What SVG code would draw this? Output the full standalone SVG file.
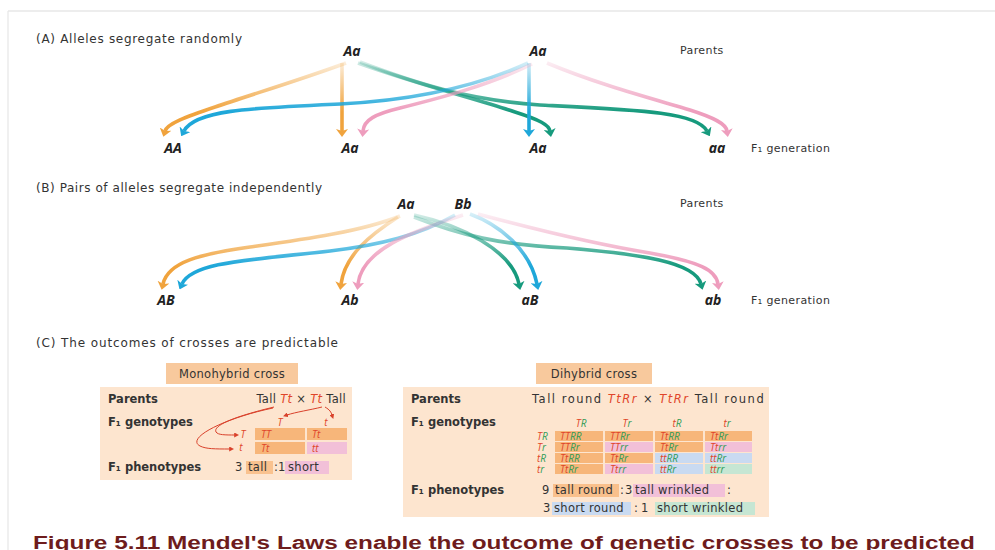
<svg xmlns="http://www.w3.org/2000/svg" width="995" height="550" viewBox="0 0 995 550">
  <style>
    .head { font-family: "DejaVu Sans", "Open Sans", sans-serif; font-size: 12px; fill: #333; }
    .lab { font-family: "DejaVu Sans", "Open Sans", sans-serif; font-size: 11px; letter-spacing: 0.4px; fill: #333; }
    .al { font-family: "Open Sans", "DejaVu Sans", sans-serif; font-size: 14px; font-weight: bold; font-style: italic; fill: #222; text-anchor: middle; }
    .bl { font-family: "DejaVu Sans", "Open Sans", sans-serif; font-size: 11.5px; font-weight: bold; fill: #333; }
    .tx { font-family: "DejaVu Sans", "Open Sans", sans-serif; font-size: 11.5px; letter-spacing: 0.3px; fill: #333; }
    .gi { font-family: "Open Sans", "DejaVu Sans", sans-serif; font-size: 10px; font-style: italic; }
    .r { fill: #e0452a; }
    .g { fill: #2e9b55; }
    .arrow { fill: none; stroke-width: 3.6; stroke-linecap: butt; }
    .red { fill: none; stroke: #d9412b; stroke-width: 1; }
    .panel { fill: #fde5cf; }
    .tag { fill: #f8c99d; }
    .co { fill: #f7b67a; }
    .cp { fill: #f2c0d8; }
    .cb { fill: #c9daf1; }
    .cg { fill: #c6e6d3; }
  </style>
  <defs>
    <!-- fading strokes, section A -->
    <linearGradient id="gAo" gradientUnits="userSpaceOnUse" x1="0" y1="60" x2="0" y2="112"><stop offset="0" stop-color="#f0a33d" stop-opacity="0.15"/><stop offset="1" stop-color="#f0a33d"/></linearGradient>
    <linearGradient id="gAb" gradientUnits="userSpaceOnUse" x1="0" y1="60" x2="0" y2="112"><stop offset="0" stop-color="#1ea7d9" stop-opacity="0.15"/><stop offset="1" stop-color="#1ea7d9"/></linearGradient>
    <linearGradient id="gAt" gradientUnits="userSpaceOnUse" x1="0" y1="60" x2="0" y2="112"><stop offset="0" stop-color="#169a7d" stop-opacity="0.15"/><stop offset="1" stop-color="#169a7d"/></linearGradient>
    <linearGradient id="gAp" gradientUnits="userSpaceOnUse" x1="0" y1="60" x2="0" y2="112"><stop offset="0" stop-color="#ee9dbd" stop-opacity="0.15"/><stop offset="1" stop-color="#ee9dbd"/></linearGradient>
    <!-- fading strokes, section B -->
    <linearGradient id="gBo" gradientUnits="userSpaceOnUse" x1="0" y1="212" x2="0" y2="266"><stop offset="0" stop-color="#f0a33d" stop-opacity="0.15"/><stop offset="1" stop-color="#f0a33d"/></linearGradient>
    <linearGradient id="gBb" gradientUnits="userSpaceOnUse" x1="0" y1="212" x2="0" y2="266"><stop offset="0" stop-color="#1ea7d9" stop-opacity="0.15"/><stop offset="1" stop-color="#1ea7d9"/></linearGradient>
    <linearGradient id="gBt" gradientUnits="userSpaceOnUse" x1="0" y1="212" x2="0" y2="266"><stop offset="0" stop-color="#169a7d" stop-opacity="0.15"/><stop offset="1" stop-color="#169a7d"/></linearGradient>
    <linearGradient id="gBp" gradientUnits="userSpaceOnUse" x1="0" y1="212" x2="0" y2="266"><stop offset="0" stop-color="#ee9dbd" stop-opacity="0.15"/><stop offset="1" stop-color="#ee9dbd"/></linearGradient>
    <marker id="mO" markerUnits="userSpaceOnUse" viewBox="0 0 8 12" refX="2" refY="6" markerWidth="8" markerHeight="12" orient="auto"><path d="M0,0 L8,6 L0,12 L2,6 Z" fill="#f0a33d"/></marker>
    <marker id="mB" markerUnits="userSpaceOnUse" viewBox="0 0 8 12" refX="2" refY="6" markerWidth="8" markerHeight="12" orient="auto"><path d="M0,0 L8,6 L0,12 L2,6 Z" fill="#1ea7d9"/></marker>
    <marker id="mT" markerUnits="userSpaceOnUse" viewBox="0 0 8 12" refX="2" refY="6" markerWidth="8" markerHeight="12" orient="auto"><path d="M0,0 L8,6 L0,12 L2,6 Z" fill="#169a7d"/></marker>
    <marker id="mP" markerUnits="userSpaceOnUse" viewBox="0 0 8 12" refX="2" refY="6" markerWidth="8" markerHeight="12" orient="auto"><path d="M0,0 L8,6 L0,12 L2,6 Z" fill="#ee9dbd"/></marker>
    <marker id="mR" markerUnits="userSpaceOnUse" viewBox="0 0 6 6" refX="1" refY="3" markerWidth="5" markerHeight="5" orient="auto"><path d="M0,0 L6,3 L0,6 Z" fill="#d9412b"/></marker>
  </defs>

  <rect width="995" height="550" fill="#ffffff"/>
  <line x1="8" y1="11" x2="995" y2="11" stroke="#dcdcdc" stroke-width="1.2"/>
  <line x1="8" y1="11" x2="8" y2="550" stroke="#e6e6e6" stroke-width="1.2"/>

  <!-- Section A -->
  <text class="head" x="36" y="43" textLength="206">(A) Alleles segregate randomly</text>
  <g id="a-parent1"><text class="al" x="352" y="56">Aa</text></g>
  <g id="a-parent2"><text class="al" x="538" y="56">Aa</text></g>
  <text class="lab" x="680" y="54">Parents</text>
  <g id="a-AA"><text class="al" x="173" y="153">AA</text></g>
  <g id="a-Aa1"><text class="al" x="350" y="153">Aa</text></g>
  <g id="a-Aa2"><text class="al" x="538" y="153">Aa</text></g>
  <g id="a-aa"><text class="al" x="717" y="153">aa</text></g>
  <text class="lab" x="751" y="152">F₁ generation</text>

  <g id="a-connectors">
    <path class="arrow" stroke="url(#gAo)" marker-end="url(#mO)" d="M346,63 C300,80 250,95 215,107 C185,117 167,124 165,131"/>
    <path class="arrow" stroke="url(#gAo)" marker-end="url(#mO)" d="M342,63 L342,131"/>
    <path class="arrow" stroke="url(#gAt)" marker-end="url(#mT)" d="M358,63 C420,85 480,100 515,112 C540,120 549,125 550,131"/>
    <path class="arrow" stroke="url(#gAt)" marker-end="url(#mT)" d="M360,62 C420,85 470,100 540,105 C640,110 697,112 707,131"/>
    <path class="arrow" stroke="url(#gAb)" marker-end="url(#mB)" d="M528,63 C480,85 420,100 340,104 C250,108 195,110 184,131"/>
    <path class="arrow" stroke="url(#gAb)" marker-end="url(#mB)" d="M529,63 L529,131"/>
    <path class="arrow" stroke="url(#gAp)" marker-end="url(#mP)" d="M532,64 C490,85 440,98 400,108 C375,114 364,120 363,131"/>
    <path class="arrow" stroke="url(#gAp)" marker-end="url(#mP)" d="M547,63 C600,85 650,98 690,110 C715,118 726,124 727,131"/>
  </g>

  <!-- Section B -->
  <text class="head" x="36" y="192" textLength="286">(B) Pairs of alleles segregate independently</text>
  <g id="b-parentA"><text class="al" x="406" y="209">Aa</text></g>
  <g id="b-parentB"><text class="al" x="463" y="209">Bb</text></g>
  <text class="lab" x="680" y="207">Parents</text>
  <g id="b-AB"><text class="al" x="166" y="305">AB</text></g>
  <g id="b-Ab"><text class="al" x="350" y="305">Ab</text></g>
  <g id="b-aB"><text class="al" x="530" y="305">aB</text></g>
  <g id="b-ab"><text class="al" x="713" y="305">ab</text></g>
  <text class="lab" x="751" y="304">F₁ generation</text>

  <g id="b-connectors">
    <path class="arrow" stroke="url(#gBo)" marker-end="url(#mO)" d="M400,216 C360,232 300,240 250,247 C200,254 168,262 163,284"/>
    <path class="arrow" stroke="url(#gBo)" marker-end="url(#mO)" d="M398,217 C370,235 345,255 341,284"/>
    <path class="arrow" stroke="url(#gBt)" marker-end="url(#mT)" d="M414,215 C460,225 512,250 519,284"/>
    <path class="arrow" stroke="url(#gBt)" marker-end="url(#mT)" d="M414,217 C460,235 500,245 567,248 C640,254 695,262 701,284"/>
    <path class="arrow" stroke="url(#gBb)" marker-end="url(#mB)" d="M455,215 C420,235 380,245 330,251 C250,260 192,262 182,284"/>
    <path class="arrow" stroke="url(#gBb)" marker-end="url(#mB)" d="M470,214 C500,225 530,250 537,284"/>
    <path class="arrow" stroke="url(#gBp)" marker-end="url(#mP)" d="M463,215 C410,232 362,250 358,284"/>
    <path class="arrow" stroke="url(#gBp)" marker-end="url(#mP)" d="M478,214 C530,228 600,245 650,253 C700,262 716,270 718,284"/>
  </g>

  <!-- Section C -->
  <text class="head" x="36" y="347" textLength="302">(C) The outcomes of crosses are predictable</text>

  <!-- Monohybrid cross -->
  <g id="mono">
    <rect class="tag" x="166" y="363" width="132" height="21"/>
    <text class="tx" x="232" y="378" text-anchor="middle">Monohybrid cross</text>
    <rect class="panel" x="100" y="387" width="252" height="93"/>
    <text class="bl" x="108" y="403">Parents</text>
    <text class="tx" x="346" y="403" text-anchor="end">Tall <tspan class="r" font-style="italic">Tt</tspan> × <tspan class="r" font-style="italic">Tt</tspan> Tall</text>
    <text class="bl" x="108" y="426">F₁ genotypes</text>
    <text class="gi r" x="280" y="426" text-anchor="middle">T</text>
    <text class="gi r" x="326" y="426" text-anchor="middle">t</text>
    <text class="gi r" x="243" y="438" text-anchor="middle">T</text>
    <text class="gi r" x="241" y="451" text-anchor="middle">t</text>
    <rect class="co" x="255" y="428" width="50" height="12"/>
    <rect class="co" x="307" y="428" width="40" height="12"/>
    <rect class="co" x="255" y="442" width="50" height="12"/>
    <rect class="cp" x="307" y="442" width="40" height="12"/>
    <text class="gi r" x="261" y="438">TT</text>
    <text class="gi r" x="312" y="438">Tt</text>
    <text class="gi r" x="261" y="452">Tt</text>
    <text class="gi r" x="312" y="452">tt</text>
    <path class="red" marker-end="url(#mR)" d="M274,407 C245,414 212,424 216,432 C218,435 225,435 235,435"/>
    <path class="red" marker-end="url(#mR)" d="M273,408 C225,418 185,438 200,446 C206,449 215,449 230,449"/>
    <path class="red" marker-end="url(#mR)" d="M322,407 C310,410 296,412 287,415"/>
    <path class="red" marker-end="url(#mR)" d="M325,407 C330,410 331,412 332,415"/>
    <text class="bl" x="108" y="471">F₁ phenotypes</text>
    <rect class="co" x="246" y="461" width="27" height="13" opacity="0.75"/>
    <rect class="cp" x="285" y="461" width="44" height="13"/>
    <text class="tx" x="235" y="471">3<tspan x="248">tall</tspan><tspan x="274">:</tspan><tspan x="278">1</tspan><tspan x="288">short</tspan></text>
  </g>

  <!-- Dihybrid cross -->
  <g id="di">
    <rect class="tag" x="536" y="363" width="116" height="21"/>
    <text class="tx" x="594" y="378" text-anchor="middle">Dihybrid cross</text>
    <rect class="panel" x="403" y="387" width="366" height="130"/>
    <text class="bl" x="411" y="403">Parents</text>
    <text class="tx" x="532" y="403" textLength="232">Tall round <tspan class="r" font-style="italic">TtRr</tspan> × <tspan class="r" font-style="italic">TtRr</tspan> Tall round</text>
    <text class="bl" x="411" y="426">F₁ genotypes</text>
    <!-- column and row gametes -->
    <text class="gi" x="581" y="427" text-anchor="middle"><tspan class="r">T</tspan><tspan class="g">R</tspan></text>
    <text class="gi" x="627" y="427" text-anchor="middle"><tspan class="r">T</tspan><tspan class="g">r</tspan></text>
    <text class="gi" x="677" y="427" text-anchor="middle"><tspan class="r">t</tspan><tspan class="g">R</tspan></text>
    <text class="gi" x="727" y="427" text-anchor="middle"><tspan class="r">t</tspan><tspan class="g">r</tspan></text>
    <text class="gi" x="537" y="440"><tspan class="r">T</tspan><tspan class="g">R</tspan></text>
    <text class="gi" x="537" y="451"><tspan class="r">T</tspan><tspan class="g">r</tspan></text>
    <text class="gi" x="537" y="462"><tspan class="r">t</tspan><tspan class="g">R</tspan></text>
    <text class="gi" x="537" y="473"><tspan class="r">t</tspan><tspan class="g">r</tspan></text>
    <!-- cells -->
    <rect class="co" x="555" y="431" width="48" height="10"/>
    <rect class="co" x="605" y="431" width="48" height="10"/>
    <rect class="co" x="655" y="431" width="48" height="10"/>
    <rect class="co" x="705" y="431" width="47" height="10"/>
    <rect class="co" x="555" y="442" width="48" height="10"/>
    <rect class="cp" x="605" y="442" width="48" height="10"/>
    <rect class="co" x="655" y="442" width="48" height="10"/>
    <rect class="cp" x="705" y="442" width="47" height="10"/>
    <rect class="co" x="555" y="453" width="48" height="10"/>
    <rect class="co" x="605" y="453" width="48" height="10"/>
    <rect class="cb" x="655" y="453" width="48" height="10"/>
    <rect class="cb" x="705" y="453" width="47" height="10"/>
    <rect class="co" x="555" y="464" width="48" height="10"/>
    <rect class="cp" x="605" y="464" width="48" height="10"/>
    <rect class="cb" x="655" y="464" width="48" height="10"/>
    <rect class="cg" x="705" y="464" width="47" height="10"/>
    <text class="gi" x="560" y="440"><tspan class="r">TT</tspan><tspan class="g">RR</tspan></text>
    <text class="gi" x="610" y="440"><tspan class="r">TT</tspan><tspan class="g">Rr</tspan></text>
    <text class="gi" x="660" y="440"><tspan class="r">Tt</tspan><tspan class="g">RR</tspan></text>
    <text class="gi" x="710" y="440"><tspan class="r">Tt</tspan><tspan class="g">Rr</tspan></text>
    <text class="gi" x="560" y="451"><tspan class="r">TT</tspan><tspan class="g">Rr</tspan></text>
    <text class="gi" x="610" y="451"><tspan class="r">TT</tspan><tspan class="g">rr</tspan></text>
    <text class="gi" x="660" y="451"><tspan class="r">Tt</tspan><tspan class="g">Rr</tspan></text>
    <text class="gi" x="710" y="451"><tspan class="r">Tt</tspan><tspan class="g">rr</tspan></text>
    <text class="gi" x="560" y="462"><tspan class="r">Tt</tspan><tspan class="g">RR</tspan></text>
    <text class="gi" x="610" y="462"><tspan class="r">Tt</tspan><tspan class="g">Rr</tspan></text>
    <text class="gi" x="660" y="462"><tspan class="r">tt</tspan><tspan class="g">RR</tspan></text>
    <text class="gi" x="710" y="462"><tspan class="r">tt</tspan><tspan class="g">Rr</tspan></text>
    <text class="gi" x="560" y="473"><tspan class="r">Tt</tspan><tspan class="g">Rr</tspan></text>
    <text class="gi" x="610" y="473"><tspan class="r">Tt</tspan><tspan class="g">rr</tspan></text>
    <text class="gi" x="660" y="473"><tspan class="r">tt</tspan><tspan class="g">Rr</tspan></text>
    <text class="gi" x="710" y="473"><tspan class="r">tt</tspan><tspan class="g">rr</tspan></text>
    <text class="bl" x="411" y="494">F₁ phenotypes</text>
    <rect class="co" x="553" y="484" width="66" height="13" opacity="0.8"/>
    <rect class="cp" x="633" y="484" width="92" height="13"/>
    <text class="tx" x="542" y="494">9<tspan x="555">tall round</tspan><tspan x="620">:</tspan><tspan x="625">3</tspan><tspan x="635">tall wrinkled</tspan><tspan x="727">:</tspan></text>
    <rect class="cb" x="552" y="502" width="79" height="13"/>
    <rect class="cg" x="655" y="502" width="100" height="13"/>
    <text class="tx" x="543" y="512">3<tspan x="554">short round</tspan><tspan x="634">:</tspan><tspan x="641">1</tspan><tspan x="657">short wrinkled</tspan></text>
  </g>

  <!-- Caption -->
  <text x="33" y="549" font-family="'Liberation Sans', Arial, sans-serif" font-size="18" font-weight="bold" fill="#6e1c1c" textLength="942" lengthAdjust="spacingAndGlyphs">Figure 5.11    Mendel's Laws enable the outcome of genetic crosses to be predicted</text>
</svg>
